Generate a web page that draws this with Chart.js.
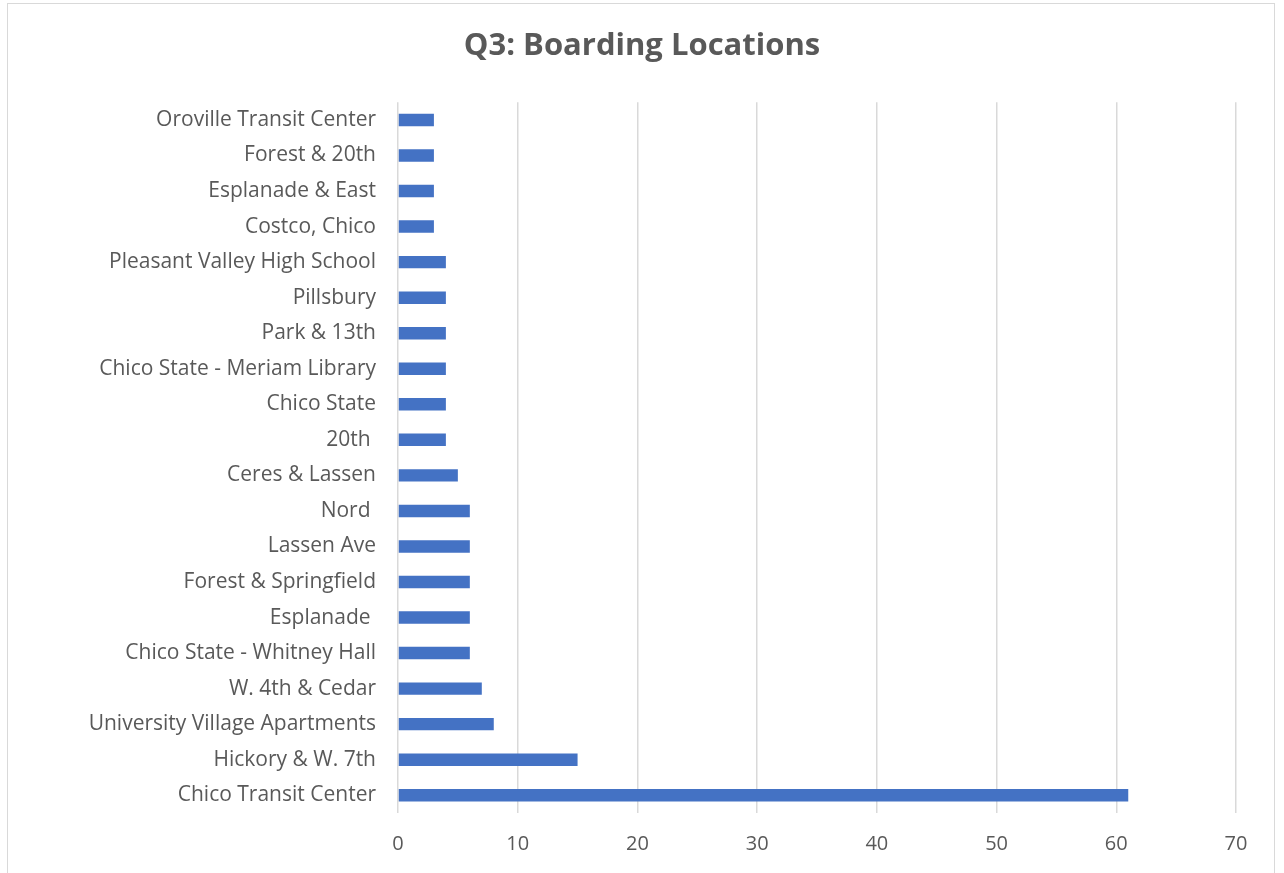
<!DOCTYPE html>
<html>
<head>
<meta charset="utf-8">
<script src="https://cdn.jsdelivr.net/npm/chart.js@4/dist/chart.umd.min.js"></script>
<style>
    html, body { margin: 0; padding: 0; background: #ffffff; overflow: hidden; }
    #wrap { position: relative; width: 1284px; height: 873px; }
    #frame { position: absolute; left: 7px; top: 3px; width: 1268px; height: 900px; border: 1.5px solid #d9d9d9; box-sizing: border-box; }
    canvas { position: absolute; left: 0; top: 0; }
</style>
</head>
<body>
<div id="wrap">
    <div id="frame"></div>
    <canvas id="boardingChart" width="1284" height="873"></canvas>
</div>
<script>
// Datos (de arriba hacia abajo)
const ubicaciones = [
    'Oroville Transit Center',
    'Forest & 20th',
    'Esplanade & East',
    'Costco, Chico',
    'Pleasant Valley High School',
    'Pillsbury',
    'Park & 13th',
    'Chico State - Meriam Library',
    'Chico State',
    '20th ',
    'Ceres & Lassen',
    'Nord ',
    'Lassen Ave',
    'Forest & Springfield',
    'Esplanade ',
    'Chico State - Whitney Hall',
    'W. 4th & Cedar',
    'University Village Apartments',
    'Hickory & W. 7th',
    'Chico Transit Center'
];
const respuestas = [3, 3, 3, 3, 4, 4, 4, 4, 4, 4, 5, 6, 6, 6, 6, 6, 7, 8, 15, 61];
const ticksX = [0, 10, 20, 30, 40, 50, 60, 70];

const gris = '#595959';
const fuente = "'Open Sans', 'Noto Sans', sans-serif";

function initChart() {
    const ctx = document.getElementById('boardingChart').getContext('2d');
    return new Chart(ctx, {
        type: 'bar',
        data: {
            labels: ubicaciones,
            datasets: [{
                label: 'Q3',
                data: respuestas,
                backgroundColor: '#4472C4',
                borderWidth: 0,
                categoryPercentage: 1,
                barPercentage: 0.35
            }]
        },
        options: {
            indexAxis: 'y',
            responsive: false,
            animation: false,
            // padding simetrico para centrar el titulo
            layout: { padding: { left: 48, right: 48, top: 0, bottom: 0 } },
            plugins: {
                legend: { display: false },
                tooltip: { enabled: false },
                title: {
                    display: true,
                    text: 'Q3: Boarding Locations',
                    color: gris,
                    font: { family: fuente, size: 31, weight: 'bold' },
                    padding: { top: 28, bottom: 37 }
                }
            },
            scales: {
                x: {
                    min: 0,
                    max: 70,
                    afterBuildTicks: (scale) => { scale.ticks = ticksX.map(v => ({ value: v })); },
                    afterFit: (scale) => { scale.height = 60; },
                    grid: { color: '#d9d9d9', lineWidth: 1.5, drawTicks: false },
                    border: { display: false },
                    ticks: { color: gris, padding: 19, font: { family: fuente, size: 20 } }
                },
                y: {
                    afterFit: (scale) => { scale.width = 350; },
                    grid: { display: false, drawTicks: false },
                    border: { display: false },
                    ticks: { color: gris, padding: 22, font: { family: fuente, size: 21 }, autoSkip: false }
                }
            }
        }
    });
}

initChart();
</script>
</body>
</html>
